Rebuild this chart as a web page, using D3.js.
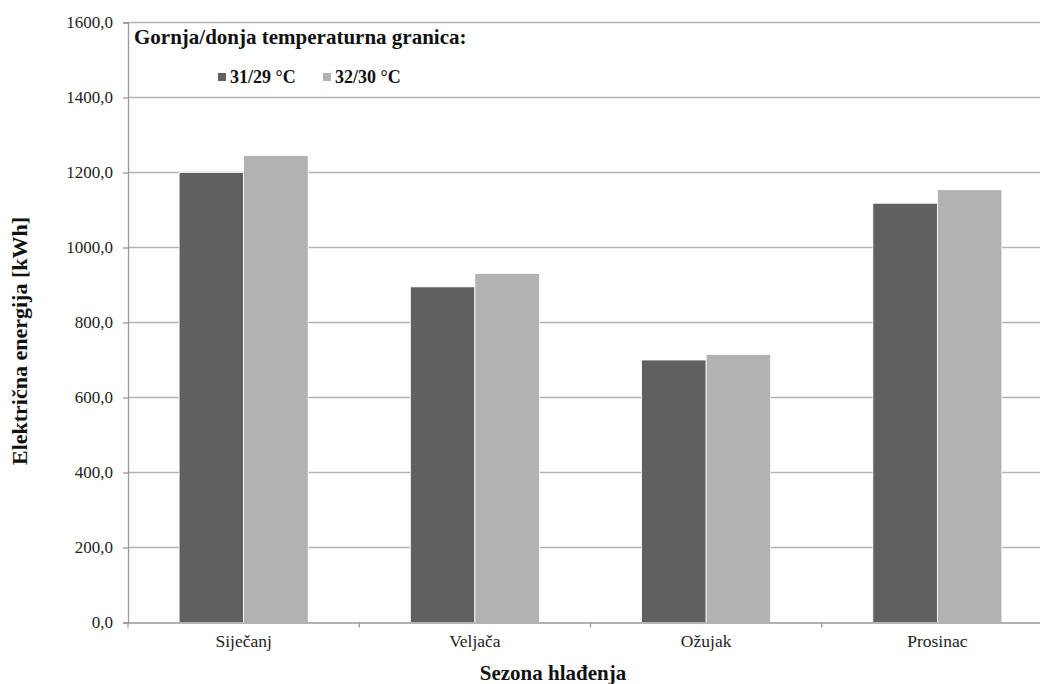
<!DOCTYPE html>
<html><head><meta charset="utf-8">
<script src="https://cdn.jsdelivr.net/npm/d3@7"></script>
<style>body{margin:0;background:#fff}svg{display:block;overflow:hidden}
text{font-family:"Liberation Serif","Times New Roman","DejaVu Serif",serif}</style>
</head><body>
<svg id="c" width="1040" height="684"></svg>
<script>
const categories = ["Siječanj", "Veljača", "Ožujak", "Prosinac"];
const seriesNames = ["31/29 °C", "32/30 °C"];
const series1 = [1200, 895, 700, 1118];
const series2 = [1245, 931, 715, 1154];
const yTicks = [0, 200, 400, 600, 800, 1000, 1200, 1400, 1600];
const colors = ["#606060", "#b2b2b2"];

const FONT = '"Liberation Serif","Times New Roman","DejaVu Serif",serif';
const svg = d3.select("#c");
const m = {l: 128, r: 1053, t: 22.5, b: 622.5};
const x = d3.scaleBand().domain(categories).range([m.l, m.r]);
const xs = d3.scaleBand().domain([0, 1]).range([0, x.bandwidth() * 0.558]);
const y = d3.scaleLinear().domain([0, 1600]).range([m.b, m.t]);
const fmt = d => d3.format(".1f")(d).replace(".", ",");

// gridlines
svg.append("g").selectAll("line").data(yTicks.filter(d => d > 0)).join("line")
  .attr("x1", m.l).attr("x2", m.r).attr("y1", d => y(d)).attr("y2", d => y(d))
  .attr("stroke", "#b3b3b3").attr("stroke-width", 1.3);

// bars
const data = [series1, series2];
const g = svg.append("g");
categories.forEach((c, i) => {
  const off = x(c) + (x.bandwidth() - xs.range()[1]) / 2;
  data.forEach((s, j) => {
    g.append("rect")
      .attr("x", off + xs(j)).attr("width", xs.bandwidth())
      .attr("y", y(s[i])).attr("height", y(0) - y(s[i]))
      .attr("fill", colors[j]).attr("stroke", "#ffffff").attr("stroke-width", 0.8);
  });
});

// y axis
const ya = svg.append("g").attr("transform", `translate(${m.l},0)`)
  .call(d3.axisLeft(y).tickValues(yTicks).tickFormat(fmt).tickSize(5).tickPadding(10));
ya.attr("font-family", FONT);
ya.select(".domain").attr("stroke", "#9a9a9a").attr("stroke-width", 1.3);
ya.selectAll(".tick line").attr("stroke", "#9a9a9a").attr("stroke-width", 1.3);
ya.selectAll("text").attr("font-family", FONT).attr("font-size", 17).attr("fill", "#222");

// x axis
const xa = svg.append("g").attr("transform", `translate(0,${m.b})`)
  .call(d3.axisBottom(x).tickSize(0).tickPadding(12));
xa.attr("font-family", FONT);
xa.select(".domain").attr("stroke", "#9a9a9a").attr("stroke-width", 1.3);
xa.selectAll("text").attr("font-family", FONT).attr("font-size", 17.5).attr("fill", "#222");
// category boundary ticks
const bounds = categories.map(c => x(c)).concat([m.r]);
svg.append("g").selectAll("line").data(bounds).join("line")
  .attr("x1", d => d).attr("x2", d => d).attr("y1", m.b).attr("y2", m.b + 5)
  .attr("stroke", "#9a9a9a").attr("stroke-width", 1.3);

// axis titles
svg.append("text").attr("x", 553).attr("y", 680)
  .attr("text-anchor", "middle").attr("font-family", FONT)
  .attr("font-weight", "bold").attr("font-size", 21).attr("fill", "#111").text("Sezona hlađenja");
svg.append("text").attr("transform", "translate(27,341) rotate(-90)")
  .attr("text-anchor", "middle").attr("font-family", FONT)
  .attr("font-weight", "bold").attr("font-size", 22).attr("fill", "#111").text("Električna energija [kWh]");

// legend
svg.append("text").attr("x", 134).attr("y", 44).attr("font-family", FONT)
  .attr("font-weight", "bold").attr("font-size", 21).attr("fill", "#111").text("Gornja/donja temperaturna granica:");
const lx = [218, 323];
seriesNames.forEach((n, j) => {
  svg.append("rect").attr("x", lx[j]).attr("y", 73).attr("width", 8).attr("height", 8).attr("fill", colors[j]);
  svg.append("text").attr("x", lx[j] + 12).attr("y", 83).attr("font-family", FONT)
    .attr("font-weight", "bold").attr("font-size", 18).attr("fill", "#111").text(n);
});
</script>
</body></html>
